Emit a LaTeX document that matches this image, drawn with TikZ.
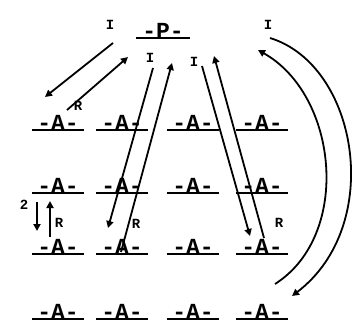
\documentclass[tikz,border=0pt]{standalone}
\usepackage{fontspec}
\setmonofont{Liberation Mono}
\usetikzlibrary{arrows.meta, positioning}

\begin{document}
\begin{tikzpicture}[
      x=1pt, y=-1pt,
      box/.style={font=\ttfamily\bfseries\fontsize{23}{23}\selectfont, inner sep=1pt},
      lbl/.style={font=\ttfamily\bfseries\fontsize{14}{14}\selectfont, inner sep=0pt},
      ul/.style={line width=2pt},
      arr/.style={line width=1.8pt, -{Triangle[length=7pt, width=7pt]}}
    ]
      \useasboundingbox (0,0) rectangle (355,326);

      % top process
      \node[box] (P) at (163,31) {-P-};
      \draw[ul] ([shift={(-5,-2)}]P.south west) -- ([shift={(5,-2)}]P.south east);

      % grid of A processes
      \foreach \c/\x in {1/58, 2/122, 3/193, 4/262}
        \foreach \r/\y in {1/123, 2/186, 3/247, 4/312} {
          \node[box] (A\r\c) at (\x,\y) {-A-};
          \draw[ul] ([shift={(-4,-2)}]A\r\c.south west) -- ([shift={(4,-2)}]A\r\c.south east);
        }

      % end points
      \coordinate (a1s) at (113,43);  \coordinate (a1e) at (45,97);
      \coordinate (a2s) at (67,110);  \coordinate (a2e) at (128,57);
      \coordinate (b1s) at (153,68);  \coordinate (b1e) at (108,228);
      \coordinate (b2s) at (121,252); \coordinate (b2e) at (172,63);
      \coordinate (c1s) at (202,66);  \coordinate (c1e) at (250,236);
      \coordinate (c2s) at (264,238); \coordinate (c2e) at (214,56);
      \coordinate (d1s) at (270,38);  \coordinate (d1e) at (292,296);
      \coordinate (d2s) at (275,284); \coordinate (d2e) at (258,50);
      \coordinate (e1s) at (37,202);  \coordinate (e1e) at (37,231);
      \coordinate (e2s) at (50,237);  \coordinate (e2e) at (50,201);

      % messages
      \draw[arr] (a1s) -- (a1e);
      \draw[arr] (a2s) -- (a2e);
      \draw[arr] (b1s) -- (b1e);
      \draw[arr] (b2s) -- (b2e);
      \draw[arr] (c1s) -- (c1e);
      \draw[arr] (c2s) -- (c2e);
      \draw[arr] (d1s) .. controls (358,65) and (385,225) .. (d1e);
      \draw[arr] (d2s) .. controls (352,235) and (338,95) .. (d2e);
      \draw[arr] (e1s) -- (e1e);
      \draw[arr] (e2s) -- (e2e);

      % labels
      \node[lbl] (l1) at (110,25) {I};
      \node[lbl] (l2) at (150,58) {I};
      \node[lbl] (l3) at (194,62) {I};
      \node[lbl] (l4) at (268,25) {I};
      \node[lbl] (l5) at (78,106) {R};
      \node[lbl] (l6) at (136,224) {R};
      \node[lbl] (l7) at (279,223) {R};
      \node[lbl] (l8) at (59,223) {R};
      \node[lbl] (l9) at (24,205) {2};
    \end{tikzpicture}
\end{document}
